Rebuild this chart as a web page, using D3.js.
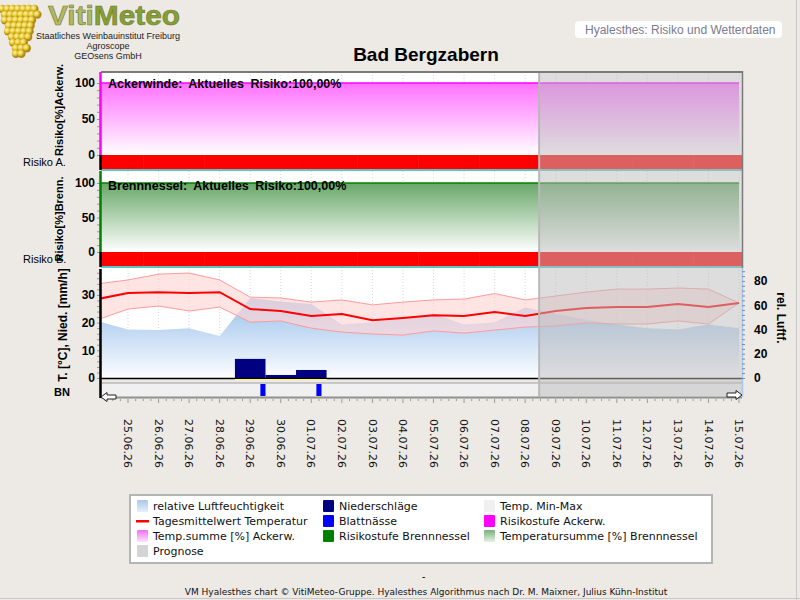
<!DOCTYPE html>
<html>
<head>
<meta charset="utf-8">
<title>VM Hyalesthes chart</title>
<script src="https://d3js.org/d3.v7.min.js"></script>
<style>
  body { margin: 0; background: #edeae5; }
  svg { display: block; font-family: "Liberation Sans", Arial, sans-serif; }
</style>
</head>
<body>
<svg id="chart" width="800" height="600"></svg>
<script>
// ---- data ----
const dates = ["24.06.26", "25.06.26", "26.06.26", "27.06.26", "28.06.26", "29.06.26", "30.06.26",
  "01.07.26", "02.07.26", "03.07.26", "04.07.26", "05.07.26", "06.07.26", "07.07.26", "08.07.26",
  "09.07.26", "10.07.26", "11.07.26", "12.07.26", "13.07.26", "14.07.26", "15.07.26"];
const tickDates = dates.slice(1);

const tempMean = [28.5, 30.7, 31, 30.7, 31, 24.9, 24.2, 22.4, 23.1, 20.9, 21.7, 22.7, 22.4, 23.8, 22.4, 24.2, 25.3, 25.6, 25.6, 26.7, 25.6, 27.1];
const tempMax = [34, 35.4, 37.5, 37.9, 35.4, 29.2, 28.9, 27.4, 28.2, 26.4, 27.4, 28.2, 28.5, 30.5, 28.2, 29.6, 31, 32.1, 32.1, 32.5, 32.1, 27.1];
const tempMin = [21, 24.9, 26, 24.2, 25.6, 20.2, 20.6, 18, 16.6, 15.9, 15.5, 17, 16.2, 17.3, 18.4, 18.8, 19.9, 19.5, 19.5, 20.6, 19.5, 27.1];
const humidity = [47, 40, 39.5, 41, 34.6, 66, 63, 61, 44, 46, 49, 53, 44, 46, 58, 53, 48, 44, 41, 40, 44, 41];
const precip = [0, 0, 0, 0, 0, 6.9, 1.1, 2.9, 0, 0, 0, 0, 0, 0, 0, 0, 0, 0, 0, 0, 0, 0];
const leafWetness = [
  { start: "29.06.26 08:00", end: "29.06.26 12:00" },
  { start: "01.07.26 04:00", end: "01.07.26 08:00" }
];
const tempSumAckerw = dates.map(() => 100);
const tempSumBrenn = dates.map(() => 100);
const riskAckerw = dates.map(() => 3);
const riskBrenn = dates.map(() => 3);
const prognoseStart = "08.07.26 11:00";
const viewStart = "24.06.26 02:47";
const viewEnd = "15.07.26 02:21";

const legendCol1 = ["relative Luftfeuchtigkeit", "Tagesmittelwert Temperatur", "Temp.summe [%] Ackerw.", "Prognose"];
const legendCol2 = ["Niederschläge", "Blattnässe", "Risikostufe Brennnessel"];
const legendCol3 = ["Temp. Min-Max", "Risikostufe Ackerw.", "Temperatursumme [%] Brennnessel"];

// ---- setup ----
const svg = d3.select("#chart");
const parseDay = d3.timeParse("%d.%m.%y");
const parseTime = d3.timeParse("%d.%m.%y %H:%M");
const days = dates.map(parseDay);

const left = 101, right = 742;
const x = d3.scaleTime().domain([parseTime(viewStart), parseTime(viewEnd)]).range([left, right]);
const yA = d3.scaleLinear().domain([0, 100]).range([155, 83]);
const yB = d3.scaleLinear().domain([0, 100]).range([252, 183]);
const yT = d3.scaleLinear().domain([0, 39]).range([378, 270]);
const yH = d3.scaleLinear().domain([0, 89]).range([378, 270]);
const riskColor = d3.scaleOrdinal().domain([0, 1, 2, 3]).range(["#00c000", "#ffff00", "#ff9900", "#ff0000"]);

const defs = svg.append("defs");
function vGrad(id, stops, y1, y2, units) {
  const g = defs.append("linearGradient").attr("id", id)
    .attr("gradientUnits", units || "userSpaceOnUse").attr("x1", 0).attr("x2", 0).attr("y1", y1).attr("y2", y2);
  stops.forEach(s => g.append("stop").attr("offset", s[0]).attr("stop-color", s[1]));
}
vGrad("gA", [[0, "#ff70ff"], [1, "#ffffff"]], 83, 155);
vGrad("gB", [[0, "#68a868"], [1, "#ffffff"]], 183, 252);
vGrad("gH", [[0, "#92bbea"], [1, "#ffffff"]], 292, 380);
defs.append("clipPath").attr("id", "clipAll").append("rect")
  .attr("x", left).attr("y", 60).attr("width", right - left).attr("height", 340);
defs.append("clipPath").attr("id", "clipT").append("rect")
  .attr("x", left).attr("y", 268).attr("width", right - left).attr("height", 110);

// ---- header ----
const logo = svg.append("g");
const grapeGrad = defs.append("radialGradient").attr("id", "grape").attr("cx", "35%").attr("cy", "35%");
grapeGrad.append("stop").attr("offset", 0).attr("stop-color", "#fff6a0");
grapeGrad.append("stop").attr("offset", 0.6).attr("stop-color", "#e8c838");
grapeGrad.append("stop").attr("offset", 1).attr("stop-color", "#b08a18");
const grapeRows = [[7, 2], [7, 3], [6, 5], [5, 7], [5, 8], [4, 10], [3, 13], [3, 14], [2, 16]];
grapeRows.forEach((r, i) => {
  for (let k = 0; k < r[0]; k++) {
    logo.append("circle").attr("cx", r[1] + k * 5.4 + (i % 2) * 2).attr("cy", 9 + i * 5.6)
      .attr("r", 4.2).attr("fill", "url(#grape)");
  }
});
logo.append("text").attr("x", 48).attr("y", 24.5).attr("font-size", 27).attr("font-weight", "bold")
  .attr("textLength", 132).attr("lengthAdjust", "spacingAndGlyphs")
  .attr("stroke", "#6f7a30").attr("stroke-width", 0.6)
  .call(t => {
    t.append("tspan").attr("fill", "#b2b868").text("Viti");
    t.append("tspan").attr("fill", "#86a034").text("Meteo");
  });
["Staatliches Weinbauinstitut Freiburg", "Agroscope", "GEOsens GmbH"].forEach((s, i) => {
  logo.append("text").attr("x", 108).attr("y", 38.5 + i * 10).attr("text-anchor", "middle")
    .attr("font-size", 9).attr("fill", "#222").text(s);
});

svg.append("rect").attr("x", 575).attr("y", 21).attr("width", 207).attr("height", 17).attr("rx", 4).attr("fill", "#fff");
svg.append("text").attr("x", 585).attr("y", 34).attr("font-size", 12).attr("fill", "#7a7a90")
  .text("Hyalesthes: Risiko und Wetterdaten");

svg.append("text").attr("x", 426).attr("y", 61).attr("text-anchor", "middle")
  .attr("font-size", 19).attr("font-weight", "bold").attr("fill", "#000").text("Bad Bergzabern");

// ---- panel backgrounds ----
svg.append("rect").attr("x", left).attr("y", 72).attr("width", right - left).attr("height", 306).attr("fill", "#fff");
svg.append("rect").attr("x", left).attr("y", 383).attr("width", right - left).attr("height", 14).attr("fill", "#f0f0f0");

// day grid
svg.append("g").selectAll("line").data(tickDates).join("line")
  .attr("x1", d => x(parseDay(d))).attr("x2", d => x(parseDay(d)))
  .attr("y1", 72).attr("y2", 378)
  .attr("stroke", "#d8d8d8").attr("stroke-dasharray", "1,2");

const plot = svg.append("g").attr("clip-path", "url(#clipAll)");

// ---- risk panels ----
function riskPanel(y, sums, risks, gradId, stroke) {
  plot.append("path").datum(sums)
    .attr("d", d3.area().x((d, i) => x(days[i])).y0(y(0)).y1(d => y(d)))
    .attr("fill", `url(#${gradId})`);
  plot.append("path").datum(sums)
    .attr("d", d3.line().x((d, i) => x(days[i])).y(d => y(d)))
    .attr("fill", "none").attr("stroke", stroke).attr("stroke-width", 1.5);
  plot.append("g").selectAll("rect").data(risks).join("rect")
    .attr("x", (d, i) => x(d3.timeHour.offset(days[i], -12)))
    .attr("width", (d, i) => x(d3.timeHour.offset(days[i], 12)) - x(d3.timeHour.offset(days[i], -12)) + 0.5)
    .attr("y", y(0)).attr("height", 14)
    .attr("fill", d => riskColor(d));
  svg.append("line").attr("x1", left).attr("x2", right).attr("y1", y(0) + 15).attr("y2", y(0) + 15)
    .attr("stroke", "#20b0b0").attr("stroke-width", 1.5);
}
riskPanel(yA, tempSumAckerw, riskAckerw, "gA", "#ff00ff");
riskPanel(yB, tempSumBrenn, riskBrenn, "gB", "#008000");

// ---- weather panel ----
const wx = svg.append("g").attr("clip-path", "url(#clipT)");
wx.append("path").datum(humidity)
  .attr("d", d3.area().x((d, i) => x(days[i])).y0(yH(0)).y1(d => yH(d)))
  .attr("fill", "url(#gH)");

wx.append("g").selectAll("rect").data(precip).join("rect")
  .attr("x", (d, i) => x(d3.timeHour.offset(days[i], -12)))
  .attr("width", (d, i) => x(d3.timeHour.offset(days[i], 12)) - x(d3.timeHour.offset(days[i], -12)))
  .attr("y", d => yT(d)).attr("height", d => yT(0) - yT(d))
  .attr("fill", "#000080");

wx.append("path").datum(dates)
  .attr("d", d3.area().x((d, i) => x(days[i])).y0((d, i) => yT(tempMin[i])).y1((d, i) => yT(tempMax[i])))
  .attr("fill", "#ffd6d6").attr("fill-opacity", 0.65);
[tempMax, tempMin].forEach(s => {
  wx.append("path").datum(s)
    .attr("d", d3.line().x((d, i) => x(days[i])).y(d => yT(d)))
    .attr("fill", "none").attr("stroke", "#ff9a9a").attr("stroke-width", 1);
});
wx.append("path").datum(tempMean)
  .attr("d", d3.line().x((d, i) => x(days[i])).y(d => yT(d)))
  .attr("fill", "none").attr("stroke", "#ff0000").attr("stroke-width", 2);

svg.append("line").attr("x1", left).attr("x2", right).attr("y1", 378.5).attr("y2", 378.5)
  .attr("stroke", "#000").attr("stroke-width", 1.5);
svg.append("g").selectAll("rect").data(precip.map((d, i) => [d, i]).filter(d => d[0] > 0)).join("rect")
  .attr("x", d => x(d3.timeHour.offset(days[d[1]], -12)))
  .attr("width", d => x(d3.timeHour.offset(days[d[1]], 12)) - x(d3.timeHour.offset(days[d[1]], -12)))
  .attr("y", 379).attr("height", 1).attr("fill", "#ffff60");

// leaf wetness strip
svg.append("line").attr("x1", left).attr("x2", right).attr("y1", 383).attr("y2", 383).attr("stroke", "#a0a0a0");
svg.append("g").selectAll("rect").data(leafWetness).join("rect")
  .attr("x", d => x(parseTime(d.start))).attr("width", d => x(parseTime(d.end)) - x(parseTime(d.start)))
  .attr("y", 384).attr("height", 12).attr("fill", "#0000ff");
svg.append("g").selectAll("rect").data(leafWetness).join("rect")
  .attr("x", d => x(parseTime(d.start))).attr("width", d => x(parseTime(d.end)) - x(parseTime(d.start)))
  .attr("y", 396).attr("height", 1).attr("fill", "#ffff40");
svg.append("line").attr("x1", left).attr("x2", right).attr("y1", 397.5).attr("y2", 397.5)
  .attr("stroke", "#909090").attr("stroke-width", 2);

// ---- prognose overlay ----
const px = x(parseTime(prognoseStart));
svg.append("rect").attr("x", px).attr("y", 72).attr("width", right - px).attr("height", 325)
  .attr("fill", "rgb(188,188,188)").attr("fill-opacity", 0.51);
svg.append("line").attr("x1", px).attr("x2", px).attr("y1", 72).attr("y2", 397)
  .attr("stroke", "#b8b8b8").attr("stroke-width", 2);

// frame
svg.append("line").attr("x1", left).attr("x2", right + 1).attr("y1", 72).attr("y2", 72)
  .attr("stroke", "#7a7a7a").attr("stroke-width", 2);
svg.append("line").attr("x1", right + 0.5).attr("x2", right + 0.5).attr("y1", 71).attr("y2", 268)
  .attr("stroke", "#7a7a7a").attr("stroke-width", 1.5);
svg.append("line").attr("x1", right + 0.5).attr("x2", right + 0.5).attr("y1", 268).attr("y2", 397)
  .attr("stroke", "#a8c4e8").attr("stroke-width", 1.5);

// ---- axes ----
function styleAxis(g, color) {
  g.attr("font-family", "'Liberation Sans', Arial, sans-serif").attr("font-size", 12).attr("font-weight", "bold");
  g.select(".domain").remove();
  g.selectAll(".tick line").attr("stroke", color);
  g.selectAll(".tick text").attr("fill", "#000");
}
function leftAxis(y, max, step, labelStep) {
  const g = svg.append("g").attr("transform", `translate(${left},0)`)
    .call(d3.axisLeft(y).tickValues(d3.range(0, max + 0.01, step)).tickSize(4).tickPadding(2)
      .tickFormat(d => d % labelStep === 0 ? d : ""));
  styleAxis(g, "#9a9a9a");
}
leftAxis(yA, 100, 10, 50);
leftAxis(yB, 100, 10, 50);
leftAxis(yT, 38, 2, 10);
const gr = svg.append("g").attr("transform", `translate(${right},0)`)
  .call(d3.axisRight(yH).tickValues(d3.range(0, 89, 4)).tickSize(3).tickPadding(9)
    .tickFormat(d => d % 20 === 0 ? d : ""));
styleAxis(gr, "#6f8fb8");

// vertical axis lines
const axisSegs = [[72, 155, "#ff00ff"], [155, 170, "#000"], [171, 252, "#008000"], [252, 267, "#000"], [269, 398, "#000"]];
svg.append("g").selectAll("line").data(axisSegs).join("line")
  .attr("x1", left - 0.5).attr("x2", left - 0.5).attr("y1", d => d[0]).attr("y2", d => d[1])
  .attr("stroke", d => d[2]).attr("stroke-width", 2.5);

// x axis ticks and labels
const xt = svg.append("g");
xt.selectAll("line.minor").data(x.ticks(d3.timeHour.every(6))).join("line")
  .attr("x1", d => x(d)).attr("x2", d => x(d))
  .attr("y1", 399).attr("y2", d => d.getHours() === 0 ? 403 : 401)
  .attr("stroke", "#9a9a9a");
xt.selectAll("text").data(tickDates).join("text")
  .attr("transform", d => `translate(${x(parseDay(d))},419) rotate(90)`)
  .attr("dy", "0.35em")
  .attr("font-family", "'DejaVu Sans', Verdana, sans-serif").attr("font-size", 11)
  .attr("fill", "#111").text(d => d);

// scroll arrows
svg.append("path").attr("d", `M${left},397 l6,-4.5 v2.5 h9 v4 h-9 v2.5 z`)
  .attr("fill", "#fff").attr("stroke", "#222").attr("stroke-width", 1);
svg.append("path").attr("d", `M${right},395 l-6,-4.5 v2.5 h-9 v4 h9 v2.5 z`)
  .attr("fill", "#fff").attr("stroke", "#222").attr("stroke-width", 1);

// ---- axis titles and panel labels ----
function vLabel(txt, xPos, yPos, rot) {
  svg.append("text").attr("transform", `translate(${xPos},${yPos}) rotate(${rot})`)
    .attr("text-anchor", "middle").attr("font-size", 11).attr("font-weight", "bold").attr("fill", "#000").text(txt);
}
vLabel("Risiko[%]Ackerw.", 63, 110, -90);
vLabel("Risiko[%]Brenn.", 63, 219, -90);
svg.append("text").attr("transform", "translate(67,325) rotate(-90)").attr("text-anchor", "middle")
  .attr("font-size", 12).attr("font-weight", "bold").text("T. [°C], Nied. [mm/h]");
svg.append("text").attr("transform", "translate(777,318) rotate(90)").attr("text-anchor", "middle")
  .attr("font-size", 12).attr("font-weight", "bold").text("rel. Luftf.");
svg.append("text").attr("x", 23).attr("y", 166).attr("font-size", 11).attr("fill", "#000").text("Risiko A.");
svg.append("text").attr("x", 23).attr("y", 263).attr("font-size", 11).attr("fill", "#000").text("Risiko B.");
svg.append("text").attr("x", 54).attr("y", 396).attr("font-size", 11).attr("font-weight", "bold").text("BN");

svg.append("text").attr("x", 108).attr("y", 88).attr("font-size", 12.5).attr("font-weight", "bold")
  .attr("word-spacing", 3).text("Ackerwinde: Aktuelles Risiko:100,00%");
svg.append("text").attr("x", 108).attr("y", 190).attr("font-size", 12.5).attr("font-weight", "bold")
  .attr("word-spacing", 3).text("Brennnessel: Aktuelles Risiko:100,00%");

// ---- legend ----
const lg = svg.append("g").attr("font-family", "'DejaVu Sans', Verdana, sans-serif").attr("font-size", 11);
lg.append("rect").attr("x", 130).attr("y", 495).attr("width", 582).attr("height", 68)
  .attr("fill", "#fff").attr("stroke", "#b4b4b4").attr("stroke-width", 2);
vGrad("lgH", [[0, "#a8c8ec"], [1, "#e8f0fa"]], 0, 1, "objectBoundingBox");
vGrad("lgA", [[0, "#f070f0"], [1, "#fce4fc"]], 0, 1, "objectBoundingBox");
vGrad("lgB", [[0, "#78b078"], [1, "#e6f2e6"]], 0, 1, "objectBoundingBox");
const icons = {
  "relative Luftfeuchtigkeit": "url(#lgH)", "Temp.summe [%] Ackerw.": "url(#lgA)", "Prognose": "#d4d4d4",
  "Niederschläge": "#000080", "Blattnässe": "#0000ff", "Risikostufe Brennnessel": "#008000",
  "Temp. Min-Max": "#f0f0f0", "Risikostufe Ackerw.": "#ff00ff", "Temperatursumme [%] Brennnessel": "url(#lgB)"
};
[[legendCol1, 137], [legendCol2, 323], [legendCol3, 484]].forEach(([items, cx]) => {
  items.forEach((name, i) => {
    const cy = 506 + i * 15;
    if (name === "Tagesmittelwert Temperatur") {
      lg.append("rect").attr("x", cx - 1).attr("y", cy - 1).attr("width", 13).attr("height", 2.5).attr("fill", "#ff0000");
    } else {
      lg.append("rect").attr("x", cx).attr("y", cy - 6).attr("width", 11).attr("height", 12).attr("rx", 1)
        .attr("fill", icons[name]);
    }
    lg.append("text").attr("x", cx + 16).attr("y", cy + 4).attr("fill", "#111").text(name);
  });
});

// ---- footer ----
svg.append("text").attr("x", 422).attr("y", 580).attr("font-size", 10).text("-");
svg.append("text").attr("x", 426).attr("y", 595).attr("text-anchor", "middle")
  .attr("font-family", "'DejaVu Sans', Verdana, sans-serif").attr("font-size", 9).attr("fill", "#111")
  .text("VM Hyalesthes chart © VitiMeteo-Gruppe. Hyalesthes Algorithmus nach Dr. M. Maixner, Julius Kühn-Institut");
svg.append("line").attr("x1", 796.5).attr("x2", 796.5).attr("y1", 0).attr("y2", 600).attr("stroke", "#c8c8c8");
svg.append("line").attr("x1", 0).attr("x2", 800).attr("y1", 598.5).attr("y2", 598.5).attr("stroke", "#c8c8c8");
</script>
</body>
</html>
